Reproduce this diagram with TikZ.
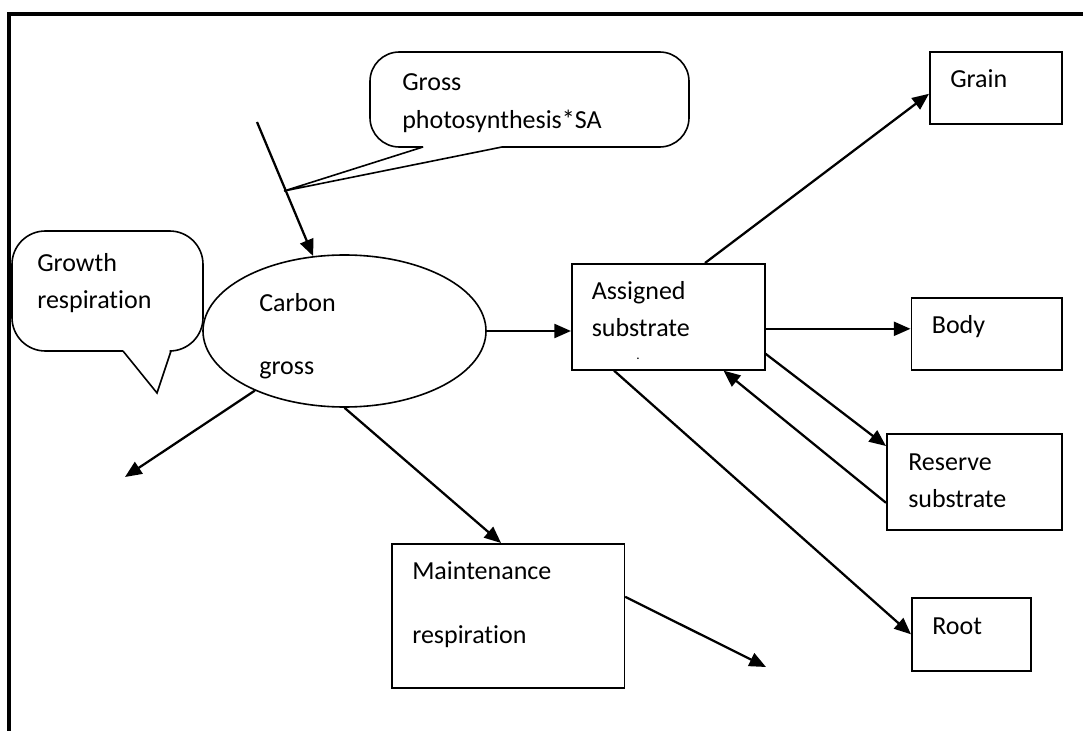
\documentclass[tikz,border=0pt]{standalone}
\usepackage{fontspec}
\setmainfont{Carlito}[Ligatures=NoCommon]
\usetikzlibrary{arrows.meta,calc,shapes.geometric}
\tikzset{
  boxnode/.style={draw, line width=1.2pt, inner sep=0pt, anchor=north west},
  lbl/.style={anchor=base west, inner sep=0pt, font=\fontsize{19.5}{24}\selectfont},
  conn/.style={line width=1.7pt, -{Triangle[length=12.5pt,width=10.5pt]}},
  plainline/.style={line width=1.7pt},
  calloutline/.style={line width=1.2pt},
  frameline/.style={line width=3pt}
}
\begin{document}
\begin{tikzpicture}[x=0.75pt,y=-0.75pt]
\useasboundingbox (0,0) rectangle (1083,731);
% frame
\draw[frameline] (8.7,731) -- (8.7,13.7) -- (1083,13.7);

% boxes
\node[boxnode, minimum width=99pt, minimum height=54pt] (grain) at (929,51) {};
\node[boxnode, minimum width=112.9pt, minimum height=54pt] (body) at (910.5,297) {};
\node[boxnode, minimum width=131.25pt, minimum height=72pt] (reserve) at (886,433) {};
\node[boxnode, minimum width=89.25pt, minimum height=54.75pt] (root) at (911,597) {};
\node[boxnode, minimum width=144.75pt, minimum height=79.5pt] (assigned) at (571,263) {};
\node[boxnode, minimum width=174.4pt, minimum height=108pt] (maint) at (391,543) {};
\node[draw, ellipse, line width=1.2pt, inner sep=0pt, minimum width=212.25pt, minimum height=114pt] (carbon) at (344.5,331) {};

% callouts
\draw[calloutline, rounded corners=22] (502,147) -- (689,147) -- (689,52) -- (370,52) -- (370,147) -- (423,147);
\draw[calloutline] (423,147) -- (284,191) -- (502,147);
\draw[calloutline, rounded corners=25] (171,351) -- (203,351) -- (203,231) -- (12,231) -- (12,351) -- (123,351);
\draw[calloutline] (123,351) -- (157,393) -- (171,351);

% texts
\node[lbl] (tgross1) at (402,90.7) {Gross};
\node[lbl] (tgross2) at (402,128.3) {photosynthesis*SA};
\node[lbl] (tgrowth1) at (37,272) {Growth};
\node[lbl] (tgrowth2) at (37,309) {respiration};
\node[lbl] (tcarbon1) at (259,311) {Carbon};
\node[lbl] (tcarbon2) at (259,374) {gross};
\node[lbl] (tassig1) at (591.5,300) {Assigned};
\node[lbl] (tassig2) at (591.5,337) {substrate};
\node[lbl, font=\fontsize{10}{12}\selectfont] (tassig3) at (636,359) {.};
\node[lbl] (tgrain) at (950,88) {Grain};
\node[lbl] (tbody) at (931.6,334) {Body};
\node[lbl] (tres1) at (908,470) {Reserve};
\node[lbl] (tres2) at (908,507) {substrate};
\node[lbl] (tmaint1) at (412,579) {Maintenance};
\node[lbl] (tmaint2) at (412,643) {respiration};
\node[lbl] (troot) at (932,634) {Root};

% free ends
\coordinate (gpin) at (257,122);
\coordinate (grout) at (125,477);
\coordinate (mout) at (766,667);

% connectors
\draw[conn] (gpin) -- (carbon);
\draw[conn] (carbon) -- (grout);
\draw[conn] (carbon.south) -- ($(maint.north west)!0.47!(maint.north east)$);
\draw[conn] (carbon.east) -- (carbon.east -| assigned.west);
\draw[conn] ($(assigned.east)+(0,12)$) -- ($(body.west)+(0,-5)$);
\draw[conn] ($(assigned.east)+(0,37)$) -- ($(reserve.north west)+(0,13)$);
\draw[conn] ($(reserve.west)+(0,21)$) -- ($(assigned.south west)+(152.5,0)$);
\draw[conn] ($(assigned.south west)+(43,0)$) -- (root.west);
\draw[conn] ($(assigned.north west)+(134,0)$) -- ($(grain.west)+(0,6)$);
\draw[conn] ($(maint.east)+(0,-19)$) -- (mout);
\end{tikzpicture}
\end{document}
